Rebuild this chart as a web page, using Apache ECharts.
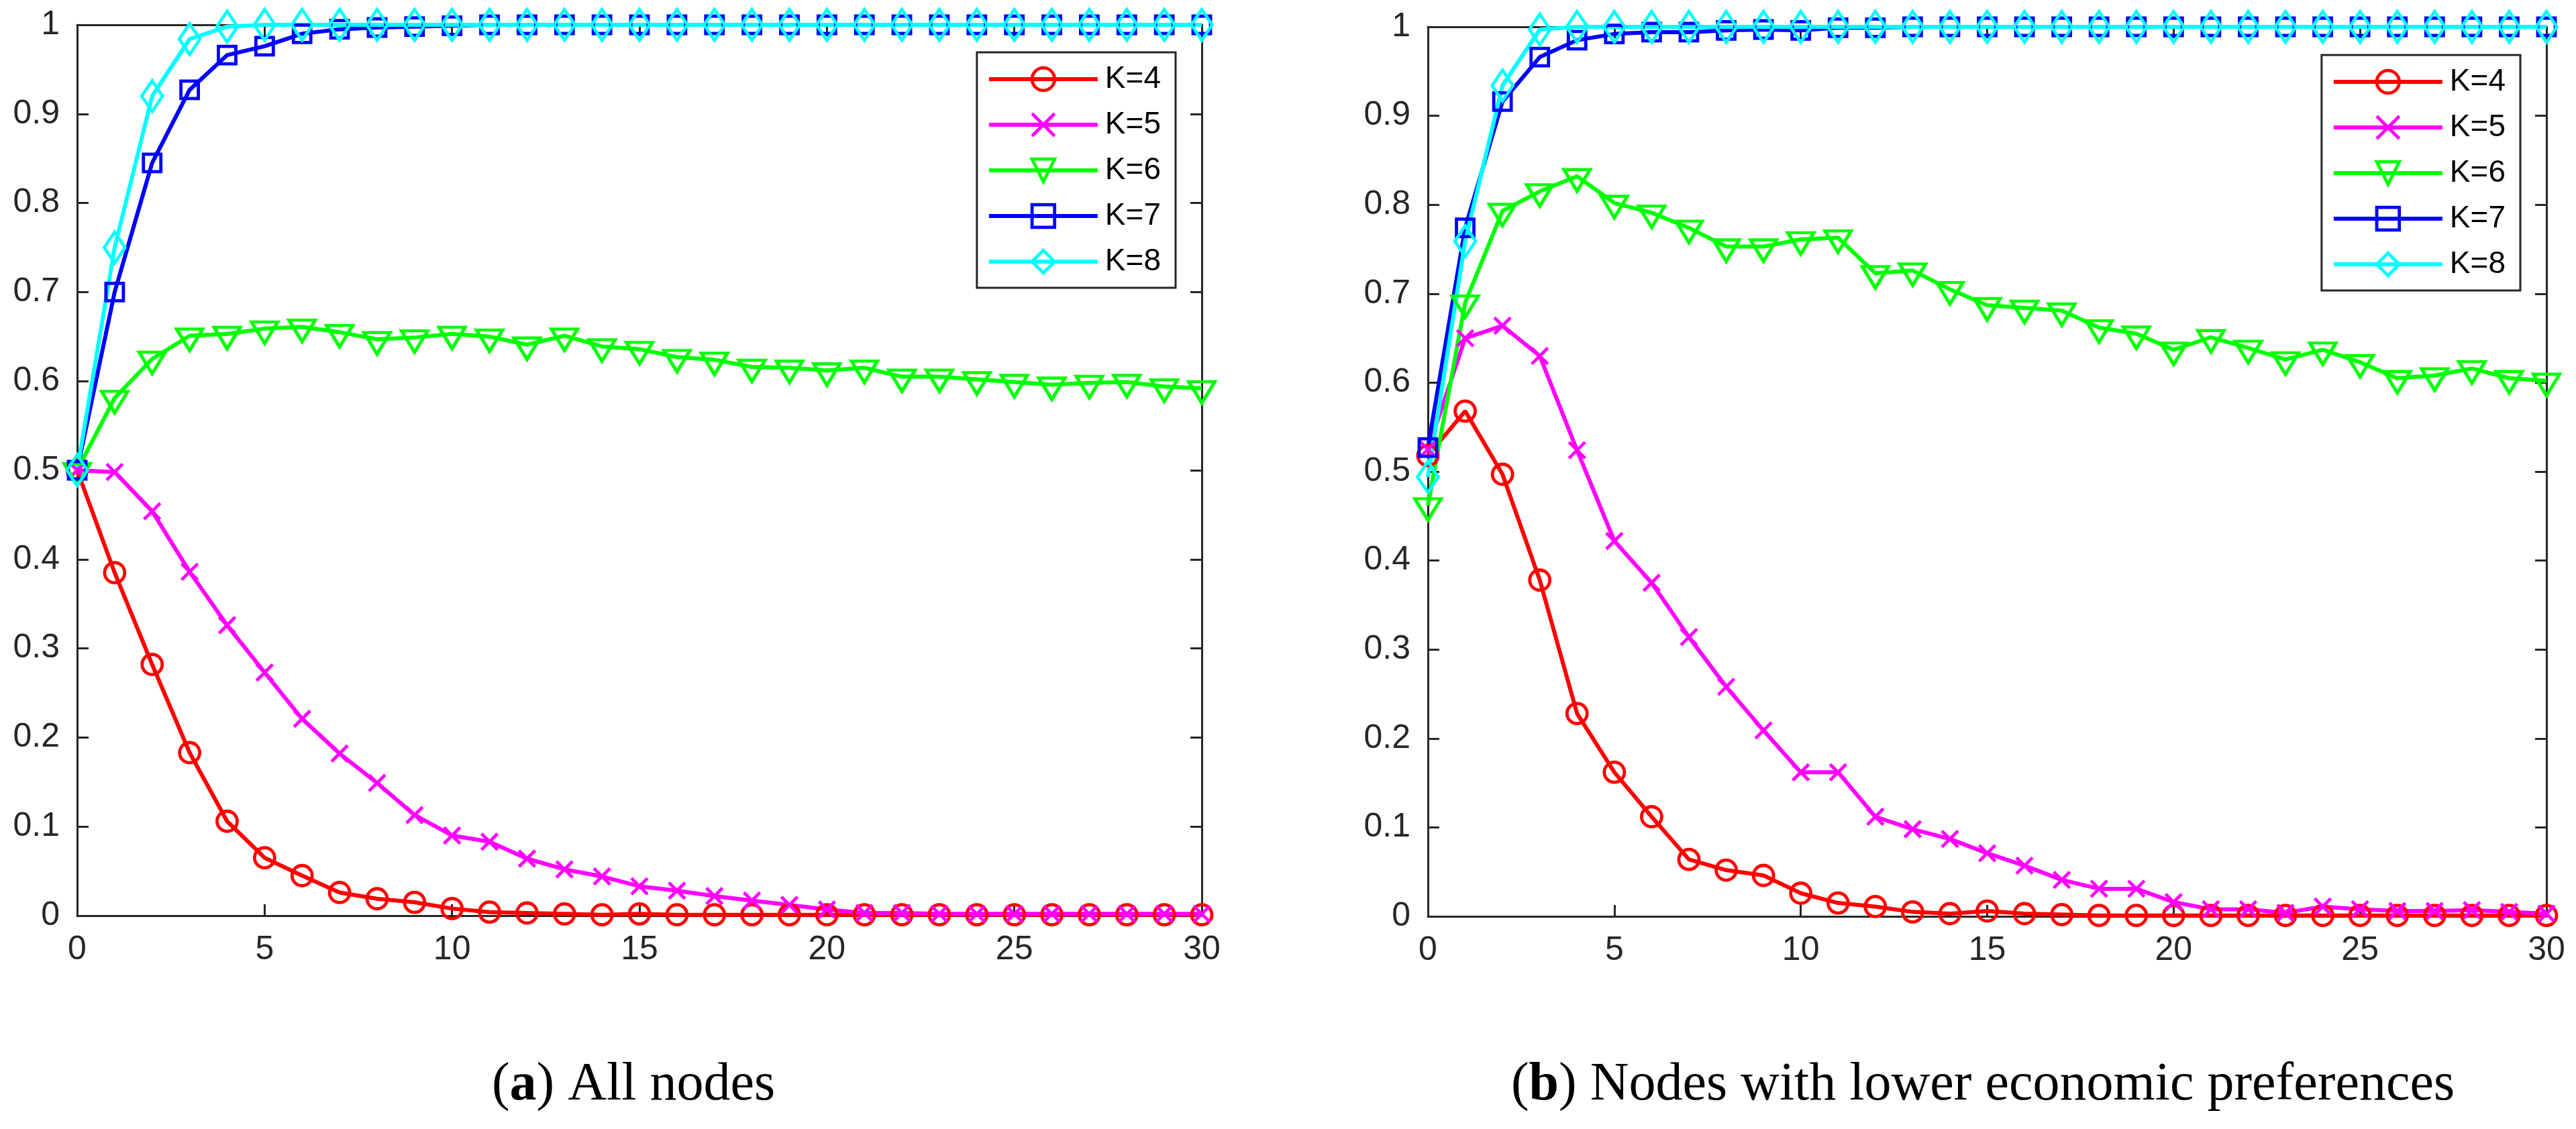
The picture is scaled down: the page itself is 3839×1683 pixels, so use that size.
<!DOCTYPE html>
<html>
<head>
<meta charset="utf-8">
<script src="https://cdn.jsdelivr.net/npm/echarts@6/dist/echarts.min.js"></script>
<style>
html,body{margin:0;padding:0;background:#fff;}
#chart{width:3839px;height:1683px;}
</style>
</head>
<body>
<div id="chart"></div>
<script>
// ---------- data ----------
const steps = [0,1,2,3,4,5,6,7,8,9,10,11,12,13,14,15,16,17,18,19,20,21,22,23,24,25,26,27,28,29,30];
const seriesNames = ['K=4','K=5','K=6','K=7','K=8'];
const xTicks = [0,5,10,15,20,25,30];
const yTicks = [0,0.1,0.2,0.3,0.4,0.5,0.6,0.7,0.8,0.9,1];

// (a) All nodes
const k4a = [0.5,0.385,0.282,0.183,0.106,0.065,0.045,0.026,0.019,0.015,0.008,0.004,0.003,0.002,0.001,0.002,0.001,0.001,0.001,0.001,0.001,0.001,0.001,0.001,0.001,0.001,0.001,0.001,0.001,0.001,0.001];
const k5a = [0.5,0.498,0.454,0.386,0.326,0.273,0.221,0.182,0.149,0.113,0.090,0.083,0.064,0.052,0.044,0.033,0.028,0.022,0.017,0.012,0.007,0.003,0.003,0.002,0.002,0.002,0.002,0.002,0.002,0.002,0.002];
const k6a = [0.5,0.581,0.625,0.651,0.653,0.659,0.661,0.655,0.647,0.649,0.653,0.650,0.641,0.651,0.639,0.636,0.627,0.624,0.616,0.615,0.612,0.615,0.605,0.605,0.602,0.599,0.596,0.598,0.599,0.594,0.592];
const k7a = [0.5,0.700,0.845,0.927,0.966,0.976,0.990,0.995,0.997,0.998,0.999,1,1,1,1,1,1,1,1,1,1,1,1,1,1,1,1,1,1,1,1];
const k8a = [0.5,0.750,0.920,0.984,0.998,1,1,1,1,1,1,1,1,1,1,1,1,1,1,1,1,1,1,1,1,1,1,1,1,1,1];

// (b) Nodes with lower economic preferences
const k4b = [0.518,0.568,0.497,0.378,0.228,0.162,0.112,0.064,0.052,0.046,0.026,0.015,0.011,0.005,0.003,0.006,0.003,0.002,0.001,0.001,0.001,0.001,0.001,0.001,0.001,0.001,0.001,0.001,0.001,0.001,0.001];
const k5b = [0.525,0.650,0.664,0.630,0.524,0.422,0.375,0.314,0.258,0.209,0.162,0.162,0.112,0.098,0.087,0.071,0.057,0.041,0.031,0.031,0.016,0.008,0.008,0.004,0.011,0.008,0.006,0.006,0.007,0.005,0.003];
const k6b = [0.462,0.690,0.793,0.815,0.832,0.802,0.791,0.774,0.753,0.753,0.761,0.763,0.723,0.726,0.705,0.687,0.684,0.681,0.662,0.655,0.637,0.651,0.639,0.626,0.637,0.623,0.605,0.608,0.616,0.605,0.602];
const k7b = [0.527,0.774,0.916,0.966,0.985,0.992,0.994,0.994,0.996,0.997,0.996,0.999,0.999,1,1,1,1,1,1,1,1,1,1,1,1,1,1,1,1,1,1];
const k8b = [0.494,0.759,0.934,0.997,1,1,1,1,1,1,1,1,1,1,1,1,1,1,1,1,1,1,1,1,1,1,1,1,1,1,1];

const captionA = ['a', ' All nodes'];
const captionB = ['b', ' Nodes with lower economic preferences'];

// ---------- styles ----------
const colors = ['#ff0000','#ff00ff','#00ff00','#0000ff','#00ffff'];
const symbols = ['circle','path://M0,0L10,10M10,0L0,10','triangle','rect','diamond'];
const symSizes = [[30,30],[24,24],[39,32],[26,26],[31,46]];
const symRot = [0,0,180,0,0];
const symOff = [[0,0],[0,0],[0,6],[0,0],[0,0]];
const axisColor = '#262626';
const labelFont = 'Liberation Sans, Arial, sans-serif';

function mkSeries(idx, values, gi){
  return {
    type:'line', name: seriesNames[idx],
    xAxisIndex: gi*2, yAxisIndex: gi*2,
    data: steps.map((s,i)=>[s, values[i]]),
    symbol: symbols[idx], symbolSize: symSizes[idx], symbolRotate: symRot[idx], symbolOffset: symOff[idx],
    showAllSymbol: true,
    lineStyle:{color: colors[idx], width:6},
    itemStyle:{color:'rgba(255,255,255,0)', borderColor: colors[idx], borderWidth:4.8},
    clip:false, animation:false, silent:true,
    emphasis:{disabled:true}
  };
}

function xAxes(gi){
  const base = {
    gridIndex: gi, type:'value', min:0, max:30, interval:5,
    axisLine:{show:true, onZero:false, lineStyle:{color:axisColor, width:3}},
    axisTick:{show:true, inside:true, length:17, lineStyle:{color:axisColor, width:3}},
    splitLine:{show:false}
  };
  return [
    Object.assign({}, base, {position:'bottom',
      axisLabel:{show:true, margin:26, fontSize:50, fontFamily:labelFont, color:axisColor, showMinLabel:true, showMaxLabel:true}}),
    Object.assign({}, base, {position:'top', axisLabel:{show:false}})
  ];
}
function yAxes(gi){
  const base = {
    gridIndex: gi, type:'value', min:0, max:1, interval:0.1,
    axisLine:{show:true, onZero:false, lineStyle:{color:axisColor, width:3}},
    axisTick:{show:true, inside:true, length:17, lineStyle:{color:axisColor, width:3}},
    splitLine:{show:false}
  };
  return [
    Object.assign({}, base, {position:'left',
      axisLabel:{show:true, margin:26, fontSize:50, fontFamily:labelFont, color:axisColor, showMinLabel:true, showMaxLabel:true,
        formatter: v => String(Math.round(v*10)/10)}}),
    Object.assign({}, base, {position:'right', axisLabel:{show:false}})
  ];
}

function mkLegend(rightPx, topPx){
  return {
    show:true, orient:'vertical', right:rightPx, top:topPx,
    data: seriesNames,
    itemWidth:162, itemHeight:42, itemGap:22,
    padding:[17,22,16,15],
    borderColor:axisColor, borderWidth:3, backgroundColor:'#fff',
    lineStyle:{width:6},
    itemStyle:{borderWidth:4.8},
    textStyle:{fontSize:46, fontFamily:labelFont, color:'#000', lineHeight:42, padding:[0,0,0,6]},
    selectedMode:false
  };
}

function mkCaption(cx, parts){
  return {
    type:'text', x:cx, y:1618,
    style:{
      text:'({b|' + parts[0] + '})' + parts[1],
      font:'80px "Liberation Serif", "Times New Roman", serif',
      fill:'#000', textAlign:'center', textVerticalAlign:'middle',
      rich:{ b:{fontWeight:'bold', fontSize:80, fontFamily:'Liberation Serif', fill:'#000'} }
    }
  };
}

const chart = echarts.init(document.getElementById('chart'), null, {renderer:'canvas'});
chart.setOption({
  backgroundColor:'#ffffff',
  animation:false,
  grid:[
    {left:115, top:37, width:1676, height:1328},
    {left:2128, top:40, width:1667, height:1326}
  ],
  xAxis: xAxes(0).concat(xAxes(1)),
  yAxis: yAxes(0).concat(yAxes(1)),
  legend:[ mkLegend(3839-1752, 78), mkLegend(3839-3756, 82) ],
  series:[
    mkSeries(0,k4a,0), mkSeries(1,k5a,0), mkSeries(2,k6a,0), mkSeries(3,k7a,0), mkSeries(4,k8a,0),
    mkSeries(0,k4b,1), mkSeries(1,k5b,1), mkSeries(2,k6b,1), mkSeries(3,k7b,1), mkSeries(4,k8b,1)
  ],
  graphic:[ mkCaption(944, captionA), mkCaption(2955, captionB) ]
});
</script>
</body>
</html>
